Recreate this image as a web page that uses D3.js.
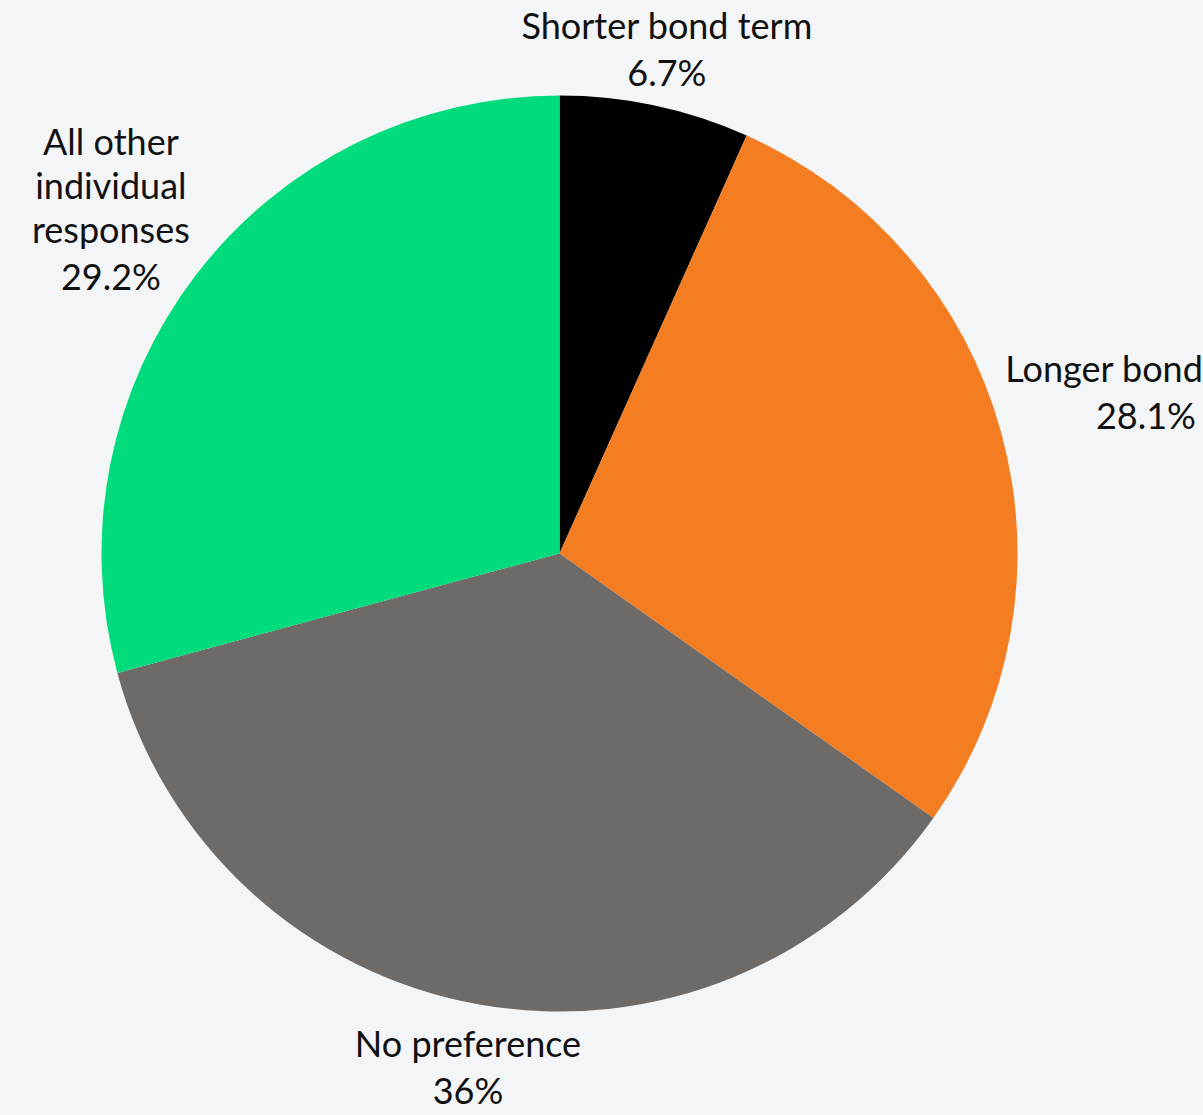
<!DOCTYPE html>
<html>
<head>
<meta charset="utf-8">
<script src="https://cdn.jsdelivr.net/npm/d3@7"></script>
<style>
  html, body { margin: 0; padding: 0; background: #f4f5f7; overflow: hidden; }
  svg { display: block; }
  text { font-family: Lato, "Noto Sans", sans-serif; font-size: 36px; fill: #111; }
</style>
</head>
<body>
<svg id="chart" width="1203" height="1115"></svg>
<script>
// Data
const categories = ["Shorter bond term", "Longer bond term", "No preference", "All other individual responses"];
const labelLines = [["Shorter bond term"], ["Longer bond term"], ["No preference"], ["All other", "individual", "responses"]];
const percentLabels = ["6.7%", "28.1%", "36%", "29.2%"];
const values = [6.7, 28.1, 36, 29.2];
const colors = ["#000000", "#f47d22", "#6e6a68", "#00db7b"];

// Layout
const W = 1203, H = 1115;
const cx = 559.5, cy = 553.5, R = 458;
const labelRadii = [514, 608, 523, 565];
const lineH = 44, pctGap = 47;

const svg = d3.select("#chart");
const g = svg.append("g").attr("transform", `translate(${cx},${cy})`);

const pie = d3.pie().sort(null).value(d => d.value);
const data = categories.map((c, i) => ({ name: c, value: values[i], color: colors[i], lines: labelLines[i], pct: percentLabels[i], lr: labelRadii[i] }));
const arcs = pie(data);
const arc = d3.arc().innerRadius(0).outerRadius(R);

g.selectAll("path.slice").data(arcs).enter().append("path")
  .attr("class", "slice")
  .attr("d", arc)
  .attr("fill", d => d.data.color);

arcs.forEach(a => {
  const la = d3.arc().innerRadius(a.data.lr).outerRadius(a.data.lr);
  const [x, y] = la.centroid(a);
  const lines = a.data.lines;
  const total = (lines.length - 1) * lineH + pctGap;
  const top = y - total / 2 + 12;
  const t = g.append("text").attr("text-anchor", "middle");
  lines.forEach((ln, i) => {
    t.append("tspan").attr("x", x).attr("y", top + i * lineH).text(ln);
  });
  t.append("tspan").attr("x", x).attr("y", top + (lines.length - 1) * lineH + pctGap).text(a.data.pct);
});
</script>
</body>
</html>
